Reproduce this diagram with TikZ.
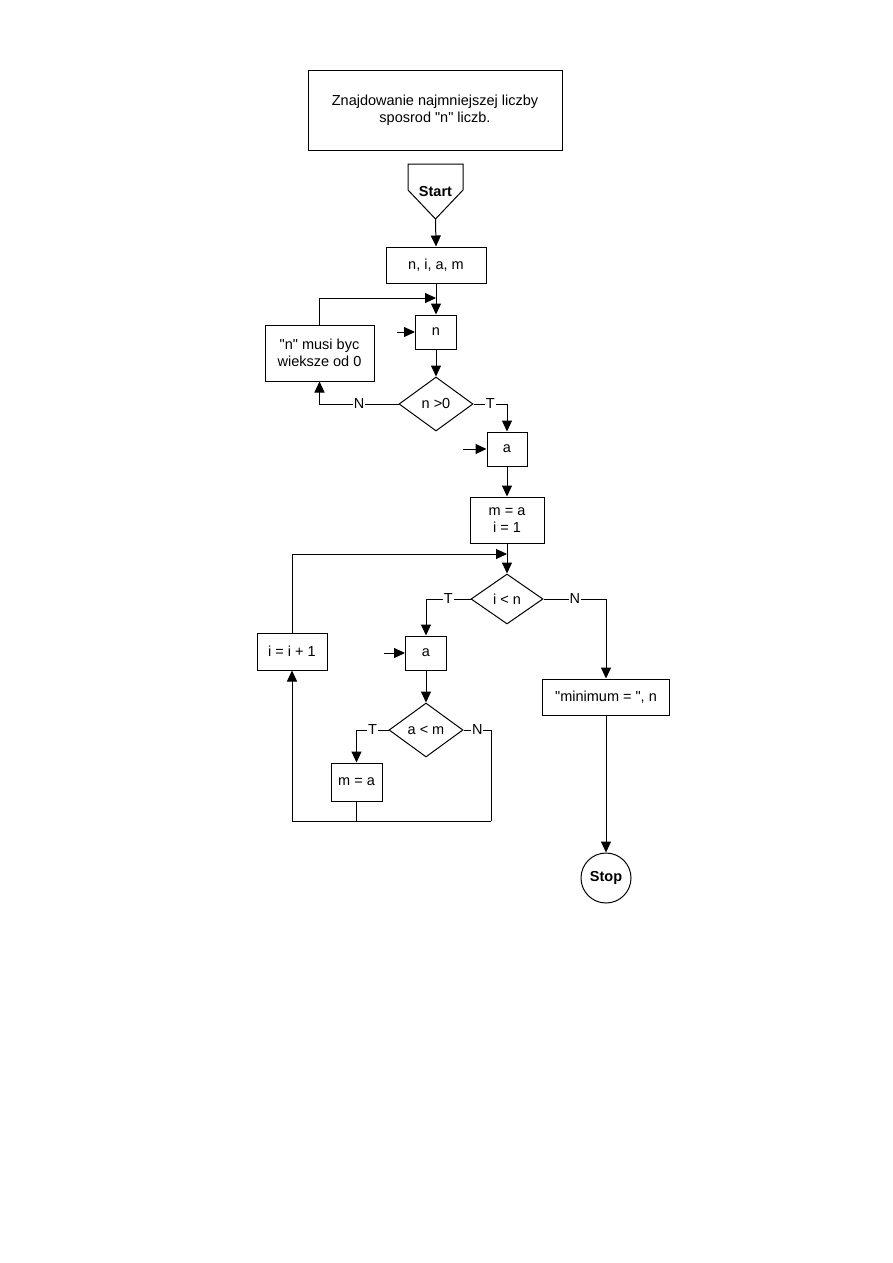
\documentclass[tikz,border=0pt]{standalone}
\usepackage{fontspec}
\setmainfont{Liberation Sans}
\usetikzlibrary{shapes.geometric,arrows.meta}

\tikzset{
  block/.style={draw,rectangle,inner sep=0pt,align=center},
  decide/.style={draw,diamond,inner sep=0pt,aspect=1.4},
  lbl/.style={fill=white,inner sep=1pt},
  flow/.style={-{Triangle[length=11pt,width=10pt]}},
}

\begin{document}
\begin{tikzpicture}[x=1pt,y=-1pt,line width=1pt,font=\fontsize{14.5}{17}\selectfont]
   \useasboundingbox (0,0) rectangle (893,1263);
   \fill[white] (0,0) rectangle (893,1263);

   \node[block,minimum width=254,minimum height=80,line width=0.6pt] (title) at (435,110)
      {Znajdowanie najmniejszej liczby\\sposrod \textquotedbl n\textquotedbl\ liczb.};

   \draw (408,164) -- (463,164) -- (463,190) -- (435.5,219) -- (408,190) -- cycle;
   \node[font=\fontsize{14.5}{17}\selectfont\bfseries] (start) at (435.5,192) {Start};
   \coordinate (starttip) at (435.5,219);

   \node[block,minimum width=100,minimum height=36] (decl) at (436,265) {n, i, a, m};
   \node[block,minimum width=41,minimum height=34] (readn) at (436,332) {n};
   \node[block,minimum width=109,minimum height=56] (err) at (319.5,353)
      {\textquotedbl n\textquotedbl\ musi byc\\wieksze od 0};
   \node[decide,minimum width=74,minimum height=54] (ifn) at (436,404) {n >0};
   \node[block,minimum width=40,minimum height=34] (reada) at (507,449) {a};
   \node[block,minimum width=74,minimum height=46] (init) at (507,520) {m = a\\i = 1};
   \node[decide,minimum width=72,minimum height=50] (ifi) at (507,599) {i < n};
   \node[block,minimum width=70,minimum height=37] (inc) at (292,651.5) {i = i + 1};
   \node[block,minimum width=41,minimum height=34] (readb) at (426,653) {a};
   \node[decide,minimum width=74,minimum height=54] (ifa) at (426,730) {a < m};
   \node[block,minimum width=51,minimum height=38] (assign) at (356.5,782) {m = a};
   \node[block,minimum width=127,minimum height=36] (out) at (606,697)
      {\textquotedbl minimum = \textquotedbl, n};
   \node[draw,circle,minimum size=50,inner sep=0pt,font=\fontsize{14.5}{17}\selectfont\bfseries] (stop) at (606,878) {Stop};

   \coordinate (join1) at (436,298);
   \coordinate (join2) at (507,554);
   \coordinate (inn) at (397,332);
   \coordinate (ina) at (463,449);
   \coordinate (inb) at (384,653);
   \coordinate (rgt) at (491,730);
   \coordinate (bot) at (491,821);
   \coordinate (mid) at (356.5,821);

   \draw[flow] (starttip) -- (decl.north);
   \draw[flow] (decl.south) -- (readn.north);
   \draw[flow] (err.north) |- (join1);
   \draw[flow] (inn) -- (readn.west);
   \draw[flow] (readn.south) -- (ifn.north);
   \draw[flow] (ifn.west) -| node[lbl,pos=0.25] {N} (err.south);
   \draw[flow] (ifn.east) -| node[lbl,pos=0.25] {T} (reada.north);
   \draw[flow] (ina) -- (reada.west);
   \draw[flow] (reada.south) -- (init.north);
   \draw[flow] (init.south) -- (ifi.north);
   \draw[flow] (inc.north) |- (join2);
   \draw[flow] (ifi.west) -| node[lbl,pos=0.25] {T} (readb.north);
   \draw[flow] (ifi.east) -| node[lbl,pos=0.25] {N} (out.north);
   \draw[flow] (inb) -- (readb.west);
   \draw[flow] (readb.south) -- (ifa.north);
   \draw[flow] (ifa.west) -| node[lbl,pos=0.25] {T} (assign.north);
   \draw (ifa.east) -- node[lbl] {N} (rgt) -- (bot);
   \draw[flow] (bot) -| (inc.south);
   \draw (assign.south) -- (mid);
   \draw[flow] (out.south) -- (stop.north);
\end{tikzpicture}
\end{document}
